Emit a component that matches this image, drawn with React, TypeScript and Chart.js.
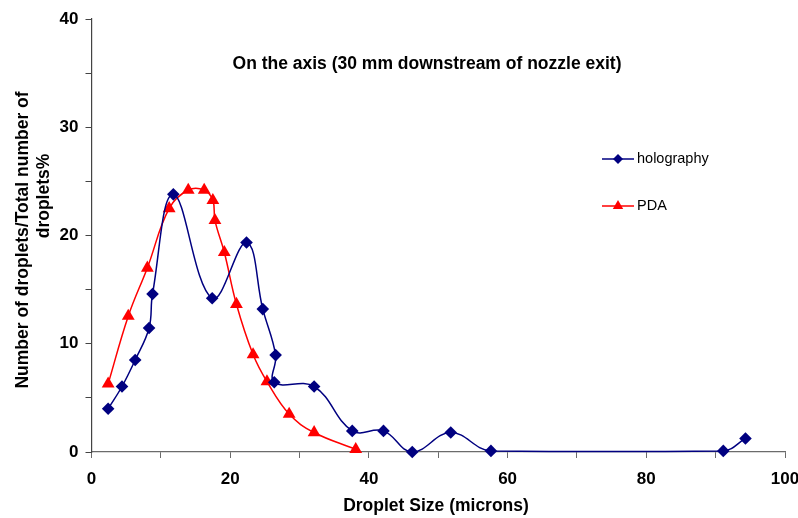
import React, { useEffect, useRef } from 'react';
import { Chart, registerables } from 'chart.js';

Chart.register(...registerables);

// ---- data ----
const holoSize = [2.4, 4.4, 6.3, 8.3, 8.8, 11.8, 17.4, 22.35, 24.7, 26.55, 26.35, 32.1, 37.6, 42.1, 46.25, 51.8, 57.6, 91.1, 94.3];
const holoPct = [4.0, 6.05, 8.5, 11.45, 14.6, 23.8, 14.2, 19.35, 13.2, 8.95, 6.45, 6.05, 1.95, 1.95, 0.0, 1.8, 0.1, 0.1, 1.25];
const pdaSize = [2.4, 5.3, 8.05, 11.2, 13.95, 16.25, 17.5, 17.8, 19.15, 20.9, 23.3, 25.3, 28.5, 32.1, 38.1];
const pdaPct = [6.3, 12.55, 17.0, 22.5, 24.2, 24.2, 23.25, 21.4, 18.45, 13.65, 9.0, 6.5, 3.5, 1.8, 0.25];

const seriesNames = ['holography', 'PDA'];
const chartTitle = 'On the axis (30 mm downstream of nozzle exit)';
const xTitle = 'Droplet Size (microns)';
const yTitleLines = ['Number of droplets/Total number of', 'droplets%'];
const xTickLabels = [0, 20, 40, 60, 80, 100];
const yTickLabels = [0, 10, 20, 30, 40];

const NAVY = '#000080';
const RED = '#FF0000';
const FONT = '"Liberation Sans", Arial, sans-serif';

const overlayPlugin = {
  id: 'overlayText',
  afterDraw(chart: any) {
    const ctx = chart.ctx as CanvasRenderingContext2D;
    ctx.save();
    ctx.fillStyle = '#000';
    ctx.textAlign = 'center';
    ctx.textBaseline = 'middle';
    ctx.font = `bold 17.5px ${FONT}`;
    ctx.fillText(chartTitle, 427, 64);
    ctx.fillText(xTitle, 436, 506);

    ctx.save();
    ctx.translate(23, 240);
    ctx.rotate(-Math.PI / 2);
    ctx.fillText(yTitleLines[0], 0, 0);
    ctx.restore();
    ctx.save();
    ctx.translate(44, 196);
    ctx.rotate(-Math.PI / 2);
    ctx.fillText(yTitleLines[1], 0, 0);
    ctx.restore();

    // legend
    ctx.font = `14.5px ${FONT}`;
    ctx.textAlign = 'left';
    const lx1 = 602, lx2 = 634, mx = 618, tx = 637;
    // holography
    let y = 159;
    ctx.strokeStyle = NAVY;
    ctx.lineWidth = 1.5;
    ctx.beginPath(); ctx.moveTo(lx1, y); ctx.lineTo(lx2, y); ctx.stroke();
    ctx.fillStyle = NAVY;
    const r = 5;
    ctx.beginPath(); ctx.moveTo(mx - r, y); ctx.lineTo(mx, y - r); ctx.lineTo(mx + r, y); ctx.lineTo(mx, y + r); ctx.closePath(); ctx.fill();
    ctx.fillStyle = '#000';
    ctx.fillText(seriesNames[0], tx, y);
    // PDA
    y = 206;
    ctx.strokeStyle = RED;
    ctx.beginPath(); ctx.moveTo(lx1, y); ctx.lineTo(lx2, y); ctx.stroke();
    ctx.fillStyle = RED;
    const tr = 6;
    ctx.beginPath();
    ctx.moveTo(mx, y - tr);
    ctx.lineTo(mx + tr * 0.866, y + tr * 0.5);
    ctx.lineTo(mx - tr * 0.866, y + tr * 0.5);
    ctx.closePath(); ctx.fill();
    ctx.fillStyle = '#000';
    ctx.fillText(seriesNames[1], tx, y);
    ctx.restore();
  },
};

export default function App() {
  const ref = useRef<HTMLCanvasElement | null>(null);
  useEffect(() => {
    if (!ref.current) return;
    const chart = new Chart(ref.current, {
      type: 'line',
      data: {
        datasets: [
          {
            label: seriesNames[0],
            data: holoSize.map((x, i) => ({ x, y: holoPct[i] })),
            borderColor: NAVY,
            backgroundColor: NAVY,
            borderWidth: 1.5,
            pointStyle: 'rectRot',
            pointRadius: 6.3,
            pointBorderWidth: 0,
            pointBackgroundColor: NAVY,
            tension: 0.4,
            clip: false,
          },
          {
            label: seriesNames[1],
            data: pdaSize.map((x, i) => ({ x, y: pdaPct[i] })),
            borderColor: RED,
            backgroundColor: RED,
            borderWidth: 1.5,
            pointStyle: 'triangle',
            pointRadius: 7.4,
            pointBorderWidth: 0,
            pointBackgroundColor: RED,
            tension: 0.4,
            clip: false,
          },
        ],
      },
      options: {
        responsive: false,
        animation: false,
        events: [],
        layout: { padding: { left: 0, right: 0, top: 19, bottom: 0 } },
        plugins: { legend: { display: false }, tooltip: { enabled: false }, title: { display: false } },
        scales: {
          x: {
            type: 'linear',
            min: 0,
            max: 100,
            afterFit: (s: any) => { s.height = 66; s.paddingRight = 13; },
            afterBuildTicks: (s: any) => {
              const t: any[] = [];
              for (let v = 0; v <= 100; v += 10) t.push({ value: v });
              s.ticks = t;
            },
            ticks: {
              autoSkip: false,
              maxRotation: 0,
              padding: 11,
              color: '#000',
              font: { family: FONT, size: 17, weight: 'bold' },
              callback: (v: any) => (xTickLabels.includes(Number(v)) ? String(v) : ''),
            },
            grid: { drawOnChartArea: false, drawTicks: true, tickLength: 6, tickColor: '#6b6b6b', tickWidth: 1 },
            border: { color: '#6b6b6b', width: 1.2 },
          },
          y: {
            type: 'linear',
            min: 0,
            max: 40,
            afterFit: (s: any) => { s.width = 91.5; },
            afterBuildTicks: (s: any) => {
              const t: any[] = [];
              for (let v = 0; v <= 40; v += 5) t.push({ value: v });
              s.ticks = t;
            },
            ticks: {
              autoSkip: false,
              padding: 7,
              color: '#000',
              font: { family: FONT, size: 17, weight: 'bold' },
              callback: (v: any) => (yTickLabels.includes(Number(v)) ? String(v) : ''),
            },
            grid: { drawOnChartArea: false, drawTicks: true, tickLength: 6, tickColor: '#444', tickWidth: 1 },
            border: { color: '#444', width: 1.2 },
          },
        },
      },
      plugins: [overlayPlugin],
    } as any);
    return () => chart.destroy();
  }, []);
  return (
    <div style={{ position: 'fixed', left: 0, top: 0, width: 798, height: 518, background: '#fff' }}>
      <canvas ref={ref} width={798} height={518} style={{ display: 'block', width: 798, height: 518 }} />
    </div>
  );
}
